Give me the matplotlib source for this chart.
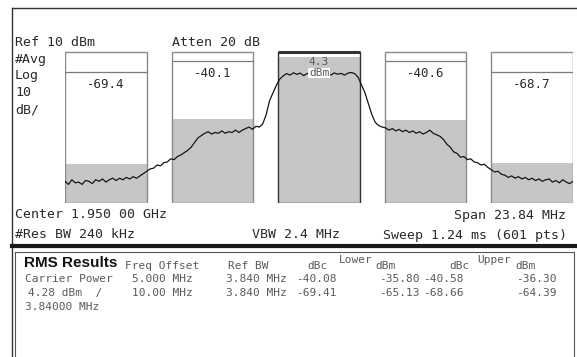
#!/usr/bin/env python3

"""
Adjacent channel power (ACP) screen of a spectrum analyzer:
averaged trace, channel boxes and the RMS results table below.
"""

import numpy as np
import matplotlib
matplotlib.use("Agg")
import matplotlib.pyplot as plt

# DATA:
#---------------------------------------------------------------------------------------------------------
# RMS results table
carrier_dbm = 4.28
carrier_bw = "3.84000 MHz"
freq_offsets = [5.0, 10.0]            # MHz
ref_bw = 3.84                         # MHz
lower_dbc = [-40.08, -69.41]
lower_dbm = [-35.80, -65.13]
upper_dbc = [-40.58, -68.66]
upper_dbm = [-36.30, -64.39]

# channel boxes on the trace (lower 10, lower 5, carrier, upper 5, upper 10)
offsets = [-10.0, -5.0, 0.0, 5.0, 10.0]
chan_dbm = [lower_dbm[1], lower_dbm[0], carrier_dbm, upper_dbm[0], upper_dbm[1]]
chan_dbc = [lower_dbc[1], lower_dbc[0], None, upper_dbc[0], upper_dbc[1]]
limit_dbm = [-5.5, 1.6, None, 1.6, -5.5]
box_top = 7.5

# averaged trace (dBm), left to right over the span
span = 23.84
trace_dbm = [
    -76, -78, -75, -77, -76.5, -78, -75.5, -76, -77.5, -75, -76, -74.5, -76.5, -75, -74, -75.5,
    -74, -75, -73.5, -74.5, -73, -74, -72.5,
    -71, -69.5, -68, -67.5, -65.5, -66, -64, -63.5, -61.5, -62, -60, -59, -57.5, -56, -54, -51,
    -48, -46.5, -45,
    -44, -45.5, -44.5, -45, -43.5, -45, -44, -44.5, -43, -44.5, -43,
    -42, -41, -42.5, -40.5, -41, -39,
    -33, -24, -19, -14, -10, -8,
    -6.5, -7.5, -6, -7, -6.2, -7.8, -6.5, -5.8, -7, -6.3, -7.2, -6, -6.8, -7.4, -6.1, -6.9,
    -6.4, -7.5, -6.2, -5.8, -6.6,
    -9, -14, -19, -26, -33, -38, -40, -41,
    -41.5, -43, -42, -43.5, -42.5, -44, -43, -44.5, -43.5, -45, -44, -45.5, -44.5, -43, -45,
    -46, -47,
    -49, -52, -54, -57, -58, -60.5, -60, -62, -61.5, -63.5, -64, -65.5, -65, -67, -68.5, -70,
    -69.5, -71.5,
    -72, -73.5, -72.5, -74, -73, -74.5, -73.5, -75, -74, -75.5, -74.5, -76, -75, -74.5, -76.5,
    -75.5, -77, -75, -76.5, -77.5, -76,
]

# PLOT:
#---------------------------------------------------------------------------------------------------------
W, H = 577, 357
mono = "DejaVu Sans Mono"
ink = "#2a2a2a"
soft = "#5a5a5a"
fill = "#c6c6c6"


def px(x0, y0, x1, y1):
    # pixel box -> figure fraction
    return [x0 / W, 1 - y1 / H, (x1 - x0) / W, (y1 - y0) / H]


fig = plt.figure(figsize=(W / 100, H / 100), dpi=100)
fig.patch.set_facecolor("white")

bg = fig.add_axes([0, 0, 1, 1])
bg.set_xlim(0, W)
bg.set_ylim(H, 0)
bg.axis("off")

ax = fig.add_axes(px(65, 48, 573, 203))
ax.set_xlim(-span / 2, span / 2)
ax.set_ylim(-90, 10)
ax.axis("off")

# channel boxes
for off, p, dbc, lim in zip(offsets, chan_dbm, chan_dbc, limit_dbm):
    carrier = dbc is None
    ax.bar(off, p + 90, bottom=-90, width=ref_bw, color=fill, zorder=1)
    ax.bar(off, box_top + 90, bottom=-90, width=ref_bw, fill=False,
           edgecolor="#333333" if carrier else "#8a8a8a", lw=1.0, zorder=3)
    if carrier:
        ax.hlines(box_top, off - ref_bw / 2, off + ref_bw / 2, color="#333333", lw=2.2, zorder=5)
        ax.text(off, 1.0, f"{p:.1f}", ha="center", va="center", fontsize=8,
                family=mono, color=soft, zorder=6)
        ax.text(off, -6.1, "dBm", ha="center", va="center", fontsize=8, family=mono,
                color=soft, zorder=6,
                bbox=dict(facecolor="white", edgecolor="none", pad=0.3))
    else:
        ax.hlines(lim, off - ref_bw / 2, off + ref_bw / 2, color="#7a7a7a", lw=0.9, zorder=3)
        ax.text(off, lim - 7.8, f"{dbc:.1f}", ha="center", va="center", fontsize=9,
                family=mono, color=ink, zorder=6)

freqs = np.linspace(-span / 2, span / 2, len(trace_dbm))
ax.plot(freqs, trace_dbm, color="#151515", lw=0.9, zorder=4)

# screen frames
bg.plot([12, 12], [8, 357], color="#333333", lw=1.0)
bg.plot([12, 577], [8, 8], color="#333333", lw=1.0)
bg.plot([12, 577], [246, 246], color="#1a1a1a", lw=3.0)
bg.plot([15, 15], [252, 357], color="#555555", lw=0.8)
bg.plot([15, 574], [252, 252], color="#555555", lw=0.8)
bg.plot([574, 574], [252, 357], color="#555555", lw=0.8)

# annotations on the trace screen
top_txt = dict(family=mono, fontsize=9.5, color=ink, va="center")
bg.text(15, 42, "Ref 10 dBm", ha="left", **top_txt)
bg.text(172, 42, "Atten 20 dB", ha="left", **top_txt)
for y, s in zip([59, 76, 93, 110], ["#Avg", "Log", "10", "dB/"]):
    bg.text(15, y, s, ha="left", **top_txt)
bg.text(15, 215, "Center 1.950 00 GHz", ha="left", **top_txt)
bg.text(566, 215, "Span 23.84 MHz", ha="right", **top_txt)
bg.text(15, 235, "#Res BW 240 kHz", ha="left", **top_txt)
bg.text(252, 235, "VBW 2.4 MHz", ha="left", **top_txt)
bg.text(567, 235, "Sweep 1.24 ms (601 pts)", ha="right", **top_txt)

# RMS results table
tab = dict(family=mono, fontsize=8, color=soft, va="center")
bg.text(24, 263, "RMS Results", ha="left", va="center", fontsize=11,
        family="Liberation Sans", fontweight="bold", color="#111111")
bg.text(125, 266, "Freq Offset", ha="left", **tab)
bg.text(228, 266, "Ref BW", ha="left", **tab)
bg.text(307, 266, "dBc", ha="left", **tab)
bg.text(339, 260, "Lower", ha="left", **tab)
bg.text(375, 266, "dBm", ha="left", **tab)
bg.text(449, 266, "dBc", ha="left", **tab)
bg.text(477, 260, "Upper", ha="left", **tab)
bg.text(515, 266, "dBm", ha="left", **tab)

bg.text(25, 279, "Carrier Power", ha="left", **tab)
bg.text(28, 293, f"{carrier_dbm:.2f} dBm  /", ha="left", **tab)
bg.text(25, 307, carrier_bw, ha="left", **tab)
for y, fo, ldbc, ldbm, udbc, udbm in zip([279, 293], freq_offsets, lower_dbc, lower_dbm,
                                         upper_dbc, upper_dbm):
    fo_txt = f"{fo:.3f} MHz" if fo < 10 else f"{fo:.2f} MHz"
    bg.text(193, y, fo_txt, ha="right", **tab)
    bg.text(287, y, f"{ref_bw:.3f} MHz", ha="right", **tab)
    bg.text(337, y, f"{ldbc:.2f}", ha="right", **tab)
    bg.text(420, y, f"{ldbm:.2f}", ha="right", **tab)
    bg.text(464, y, f"{udbc:.2f}", ha="right", **tab)
    bg.text(557, y, f"{udbm:.2f}", ha="right", **tab)

fig.savefig("out.png", dpi=100, facecolor="white")
